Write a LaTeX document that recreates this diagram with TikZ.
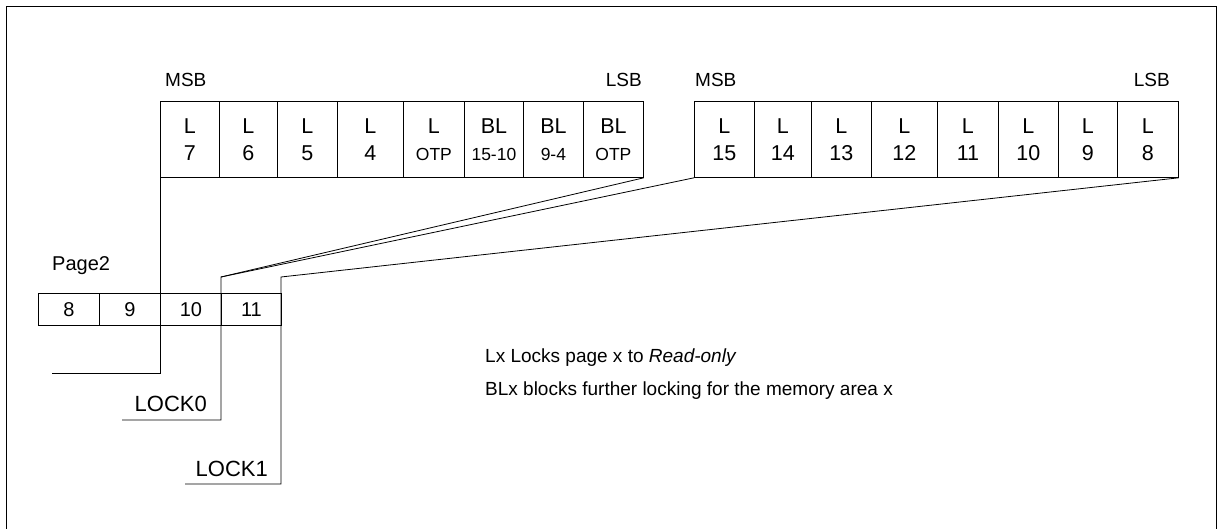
\documentclass[tikz,border=0pt]{standalone}
\usepackage{fontspec}
\setmainfont{Liberation Sans}
\tikzset{
  bitcell/.style={draw, line width=0.8pt, anchor=north west, minimum height=76pt, inner sep=0pt, align=center, font=\fontsize{21.5}{27}\selectfont},
  pagecell/.style={draw, line width=0.8pt, anchor=north west, minimum height=32pt, inner sep=0pt, font=\fontsize{20}{22}\selectfont},
  wire/.style={line width=0.8pt},
  lbl/.style={inner sep=0pt, font=\fontsize{19}{22}\selectfont},
}
\newcommand{\subl}[1]{{\fontsize{17.5}{27}\selectfont #1}}
\begin{document}
\begin{tikzpicture}[x=1pt, y=-1pt]
            \useasboundingbox (0,0) rectangle (1222,529);
            % frame round the picture
            \draw[line width=1.6pt] (6.5,529) -- (6.5,6.5) -- (1216.5,6.5) -- (1216.5,529);

            % first lock byte: L7 ... BL OTP
            \node[lbl, anchor=base west] (msba) at (165,87) {MSB};
            \node[lbl, anchor=base east] (lsba) at (642,87) {LSB};
            \node[bitcell, minimum width=59pt] (l7) at (160,101) {L\\7};
            \node[bitcell, minimum width=58pt] (l6) at (219,101) {L\\6};
            \node[bitcell, minimum width=60pt] (l5) at (277,101) {L\\5};
            \node[bitcell, minimum width=66pt] (l4) at (337,101) {L\\4};
            \node[bitcell, minimum width=61pt] (lotp) at (403,101) {L\\\subl{OTP}};
            \node[bitcell, minimum width=59pt] (bla) at (464,101) {BL\\\subl{15-10}};
            \node[bitcell, minimum width=60pt] (blb) at (523,101) {BL\\\subl{9-4}};
            \node[bitcell, minimum width=60pt] (blotp) at (583,101) {BL\\\subl{OTP}};

            % second lock byte: L15 ... L8
            \node[lbl, anchor=base west] (msbb) at (695,87) {MSB};
            \node[lbl, anchor=base east] (lsbb) at (1170,87) {LSB};
            \node[bitcell, minimum width=60pt] (l15) at (694,101) {L\\15};
            \node[bitcell, minimum width=57pt] (l14) at (754,101) {L\\14};
            \node[bitcell, minimum width=60pt] (l13) at (811,101) {L\\13};
            \node[bitcell, minimum width=66pt] (l12) at (871,101) {L\\12};
            \node[bitcell, minimum width=61pt] (l11) at (937,101) {L\\11};
            \node[bitcell, minimum width=60pt] (l10) at (998,101) {L\\10};
            \node[bitcell, minimum width=59pt] (l9) at (1058,101) {L\\9};
            \node[bitcell, minimum width=61pt] (l8) at (1117,101) {L\\8};

            % Page2 with its four bytes
            \node[inner sep=0pt, anchor=base west, font=\fontsize{20}{24}\selectfont] (page) at (52,270) {Page2};
            \node[pagecell, minimum width=61pt] (p8) at (38,293) {8};
            \node[pagecell, minimum width=61pt] (p9) at (99,293) {9};
            \node[pagecell, minimum width=61pt] (p10) at (160,293) {10};
            \node[pagecell, minimum width=60pt] (p11) at (221,293) {11};

            % bends and loose ends of the lock lines
            \coordinate (kink0) at (221,277);
            \coordinate (kink1) at (281,277);
            \coordinate (endpg) at (52,373);
            \coordinate (end0) at (122,420);
            \coordinate (end1) at (185,484);

            % lock lines
            \draw[wire] (l7.south west) |- (endpg);
            \draw[wire] (blotp.south east) -- (kink0) |- (end0);
            \draw[wire] (l15.south west) -- (kink0);
            \draw[wire] (l8.south east) -- (kink1) |- (end1);
            \node[lbl, anchor=base east, font=\fontsize{22}{24}\selectfont] (lock0) at (207,411) {LOCK0};
            \node[lbl, anchor=base east, font=\fontsize{22}{24}\selectfont] (lock1) at (268,476) {LOCK1};

            % legend
            \node[lbl, anchor=base west] (legenda) at (485,362) {Lx Locks page x to \textit{Read-only}};
            \node[lbl, anchor=base west] (legendb) at (485,395) {BLx blocks further locking for the memory area x};
        \end{tikzpicture}
\end{document}
